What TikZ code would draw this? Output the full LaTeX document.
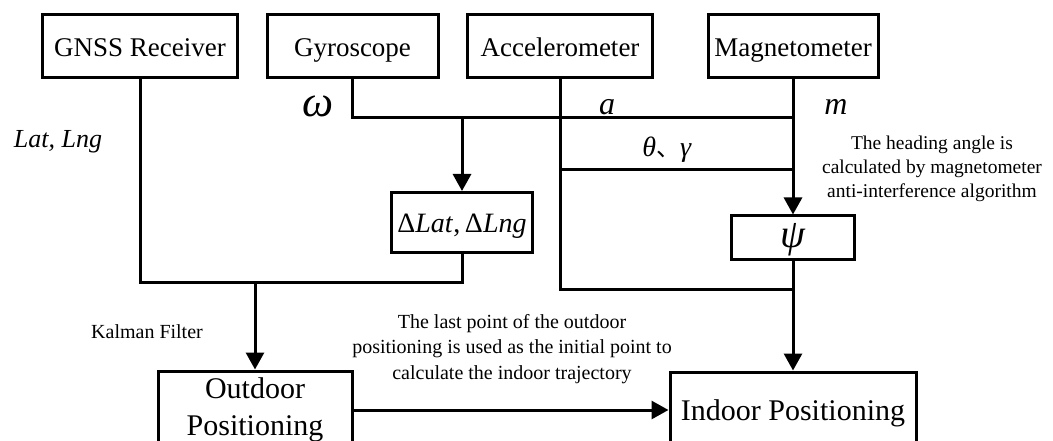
\documentclass[tikz,border=0pt]{standalone}
\usepackage{fontspec}
\setmainfont{Liberation Serif}
\newfontfamily\cjk{Noto Sans CJK SC}
\usetikzlibrary{arrows.meta}
\begin{document}
\begin{tikzpicture}[x=1pt,y=-1pt,
  box/.style={draw, line width=3pt, minimum height=63pt, inner sep=0pt, text height=20pt, text depth=0pt, font=\fontsize{27}{30}\selectfont},
  conn/.style={line width=3pt},
  arr/.style={conn, -{Triangle[width=18pt,length=17pt]}},
  lbl/.style={inner sep=0pt, font=\fontsize{20}{25}\selectfont, align=center},
  sym/.style={inner sep=0pt, font=\fontsize{32}{34}\selectfont\itshape}]
\useasboundingbox (0,0) rectangle (1053,441);
\clip (0,0) rectangle (1053,441);
\node[box, minimum width=195pt] (gnss) at (140,46.5) {GNSS Receiver};
\node[box, minimum width=171pt] (gyro) at (352.5,46.5) {Gyroscope};
\node[box, minimum width=185pt] (acc) at (560,46.5) {Accelerometer};
\node[box, minimum width=170pt] (mag) at (793,46.5) {Magnetometer};
\node[box, minimum width=141pt, minimum height=60pt, text height=20pt, font=\fontsize{28}{30}\selectfont] (dlat) at (462,222.5) {Δ\textit{Lat}{,}\,Δ\textit{Lng}};
\node[box, minimum width=123pt, minimum height=43pt, text height=20pt, font=\fontsize{40}{42}\selectfont\itshape] (psi) at (793,237.5) {ψ};
\node[box, minimum width=194pt, minimum height=78pt, text height=, text depth=, align=center, font=\fontsize{30}{37}\selectfont] (out) at (255,410) {Outdoor\\Positioning};
\node[box, minimum width=246pt, minimum height=76pt, font=\fontsize{30}{37}\selectfont] (in) at (793,410) {Indoor Positioning};
\coordinate (j1) at (255,282.5);
\coordinate (g1) at (793,118);
\coordinate (g2) at (462,118);
\coordinate (a1) at (793,289);
\coordinate (t1) at (560,170);
\coordinate (t2) at (793,170);
\draw[conn] (gnss.south) |- (j1) -| (dlat.south);
\draw[arr] (j1) -- (out.north);
\draw[conn] (gyro.south) |- (g1);
\draw[arr] (g2) -- (dlat.north);
\draw[conn] (acc.south) |- (a1);
\draw[conn] (t1) -- (t2);
\draw[arr] (mag.south) -- (psi.north);
\draw[arr] (psi.south) -- (in.north);
\draw[arr] (out.east) -- (in.west);
\node[sym, font=\fontsize{26}{28}\selectfont\itshape] (latlng) at (58,142) {Lat, Lng};
\node[sym, font=\fontsize{44}{46}\selectfont\itshape] (omega) at (318,106) {ω};
\node[sym] (la) at (607,107) {a};
\node[sym] (lm) at (836,107) {m};
\node[sym, font=\fontsize{28}{30}\selectfont] (thg) at (667,150) {\textit{θ}{\cjk\fontsize{24}{26}\selectfont 、}\textit{γ}};
\node[lbl, font=\fontsize{19.5}{24}\selectfont] (head) at (932,169) {The heading angle is\\calculated by magnetometer\\anti-interference algorithm};
\node[lbl] (kal) at (147,331.5) {Kalman Filter};
\node[lbl, font=\fontsize{20}{25.5}\selectfont] (last) at (512,349) {The last point of the outdoor\\positioning is used as the initial point to\\calculate the indoor trajectory};
\end{tikzpicture}
\end{document}
